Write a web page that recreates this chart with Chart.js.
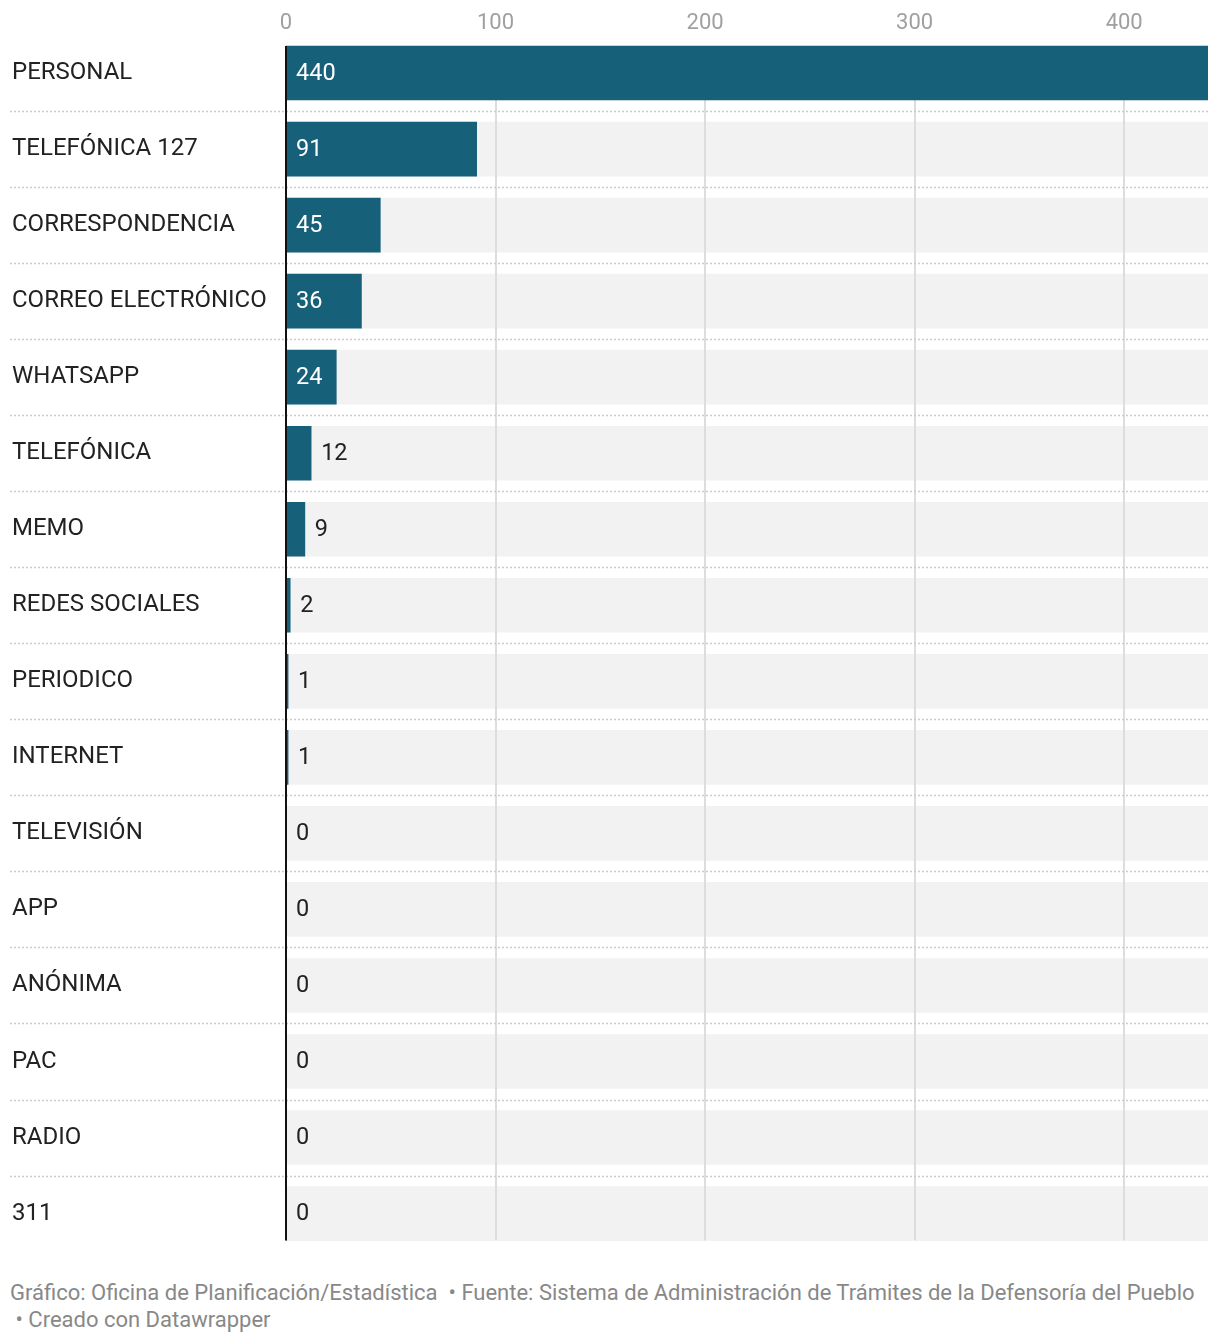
<!DOCTYPE html>
<html>
<head>
<meta charset="utf-8">
<script src="https://cdn.jsdelivr.net/npm/chart.js@4.4.1/dist/chart.umd.min.js"></script>
<style>
  body { margin: 0; background: #fff; font-family: Roboto, "Noto Sans", sans-serif; }
  #wrap { position: relative; width: 1220px; height: 1269px; }
  .note { position: absolute; left: 10px; color: #888; font-size: 22px; white-space: pre; }
</style>
</head>
<body>
<div id="wrap"><canvas id="myChart"></canvas></div>
<div class="note" style="top:1280px">Gráfico: Oficina de Planificación/Estadística  • Fuente: Sistema de Administración de Trámites de la Defensoría del Pueblo</div>
<div class="note" style="top:1307px"> • Creado con Datawrapper</div>
<script>
const categories = ['PERSONAL', 'TELEFÓNICA 127', 'CORRESPONDENCIA', 'CORREO ELECTRÓNICO', 'WHATSAPP',
  'TELEFÓNICA', 'MEMO', 'REDES SOCIALES', 'PERIODICO', 'INTERNET', 'TELEVISIÓN', 'APP',
  'ANÓNIMA', 'PAC', 'RADIO', '311'];
const values = [440, 91, 45, 36, 24, 12, 9, 2, 1, 1, 0, 0, 0, 0, 0, 0];
const xTicks = [0, 100, 200, 300, 400];
const xMax = 440;

const barColor = '#17607a';

// grid, separators, zero line, tick and value labels
const extras = {
  id: 'extras',
  beforeDatasetDraw(chart, args) {
    if (args.index !== 1) return;
    const ctx = chart.ctx;
    const x = chart.scales.x;
    const bg = chart.getDatasetMeta(0).data;
    const top = bg[0].y - bg[0].height / 2;
    const bottom = bg[bg.length - 1].y + bg[bg.length - 1].height / 2;
    ctx.save();
    ctx.strokeStyle = '#dddddd';
    ctx.lineWidth = 2;
    xTicks.slice(1).forEach(v => {
      const px = Math.round(x.getPixelForValue(v));
      ctx.beginPath();
      ctx.moveTo(px, top);
      ctx.lineTo(px, bottom);
      ctx.stroke();
    });
    // dotted separators
    ctx.strokeStyle = '#cccccc';
    ctx.lineWidth = 1.5;
    ctx.setLineDash([2, 2]);
    for (let i = 0; i < bg.length - 1; i++) {
      const y = Math.round((bg[i].y + bg[i + 1].y) / 2) + 0.5;
      ctx.beginPath();
      ctx.moveTo(10, y);
      ctx.lineTo(x.right, y);
      ctx.stroke();
    }
    ctx.restore();
  },
  afterDatasetsDraw(chart) {
    const ctx = chart.ctx;
    const x = chart.scales.x;
    const bg = chart.getDatasetMeta(0).data;
    const bars = chart.getDatasetMeta(1).data;
    const top = bg[0].y - bg[0].height / 2;
    const bottom = bg[bg.length - 1].y + bg[bg.length - 1].height / 2;
    const x0 = x.getPixelForValue(0);
    ctx.save();
    ctx.textBaseline = 'middle';
    // top tick labels
    ctx.font = '22px Roboto';
    ctx.textAlign = 'center';
    ctx.fillStyle = '#a0a0a0';
    xTicks.forEach(v => ctx.fillText(String(v), x.getPixelForValue(v), 23.5));
    // value labels
    ctx.font = '23.5px Roboto';
    ctx.textAlign = 'left';
    bars.forEach((b, i) => {
      const txt = String(values[i]);
      const w = ctx.measureText(txt).width;
      const bw = b.x - x0;
      if (w + 20 < bw) {
        ctx.fillStyle = '#ffffff';
        ctx.fillText(txt, x0 + 10, b.y + 1);
      } else {
        ctx.fillStyle = '#222222';
        ctx.fillText(txt, b.x + 10, b.y + 1);
      }
    });
    ctx.strokeStyle = '#111111';
    ctx.lineWidth = 2;
    ctx.beginPath();
    ctx.moveTo(x0, top);
    ctx.lineTo(x0, bottom);
    ctx.stroke();
    ctx.restore();
  }
};

new Chart(document.getElementById('myChart'), {
  type: 'bar',
  data: {
    labels: categories,
    datasets: [
      {
        data: categories.map(() => xMax),
        backgroundColor: '#f2f2f2',
        barThickness: 54,
        grouped: false,
        order: 2
      },
      {
        data: values,
        backgroundColor: barColor,
        barThickness: 54,
        grouped: false,
        order: 1
      }
    ]
  },
  options: {
    indexAxis: 'y',
    responsive: true,
    maintainAspectRatio: false,
    animation: false,
    devicePixelRatio: 1,
    layout: { padding: { left: 12, right: 12, top: 0, bottom: 11 } },
    plugins: { legend: { display: false }, tooltip: { enabled: false } },
    scales: {
      x: {
        position: 'top',
        min: 0,
        max: xMax,
        afterBuildTicks: s => { s.ticks = xTicks.map(v => ({ value: v })); },
        afterFit: s => { s.height = 35; },
        grid: { display: false },
        border: { display: false },
        ticks: { display: false }
      },
      y: {
        afterFit: s => { s.width = 274; },
        grid: { display: false },
        border: { display: false },
        ticks: { color: '#222222', crossAlign: 'far', font: { family: 'Roboto', size: 24 } }
      }
    }
  },
  plugins: [extras]
});
</script>
</body>
</html>
